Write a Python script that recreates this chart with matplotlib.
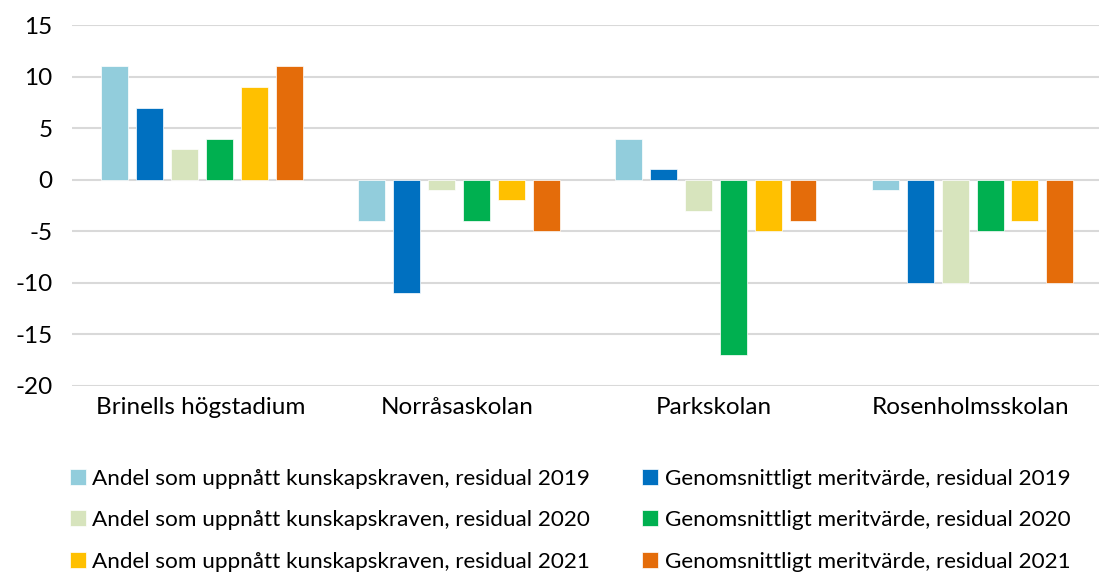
import numpy as np
import matplotlib
matplotlib.use("Agg")
from matplotlib import pyplot as plt

schools = ["Brinells högstadium", "Norråsaskolan", "Parkskolan", "Rosenholmsskolan"]
series_names = [
    "Andel som uppnått kunskapskraven, residual 2019",
    "Genomsnittligt meritvärde, residual 2019",
    "Andel som uppnått kunskapskraven, residual 2020",
    "Genomsnittligt meritvärde, residual 2020",
    "Andel som uppnått kunskapskraven, residual 2021",
    "Genomsnittligt meritvärde, residual 2021",
]
andel_2019 = [11, -4, 4, -1]
merit_2019 = [7, -11, 1, -10]
andel_2020 = [3, -1, -3, -10]
merit_2020 = [4, -4, -17, -5]
andel_2021 = [9, -2, -5, -4]
merit_2021 = [11, -5, -4, -10]
yticks = [15, 10, 5, 0, -5, -10, -15, -20]

values = [andel_2019, merit_2019, andel_2020, merit_2020, andel_2021, merit_2021]
colors = ["#92CDDC", "#0070C0", "#D7E4BD", "#00B050", "#FFC000", "#E46C0A"]

plt.rcParams["font.family"] = ["Lato", "DejaVu Sans"]

fig = plt.figure(figsize=(11.05, 5.74), dpi=100)
ax = fig.add_axes([0.065, 0.328, 0.93, 0.628])

x = np.arange(len(schools))
step = 0.136
width = 0.105
bars = []
for i, vals in enumerate(values):
    b = ax.bar(x + (i - 2.5) * step + 0.006, vals, width, color=colors[i],
               edgecolor="white", linewidth=0.5, zorder=3, label=series_names[i])
    bars.append(b)

ax.set_ylim(-20, 15)
ax.set_xlim(-0.5, 3.5)
ax.set_yticks(yticks)
ax.set_yticklabels([str(t) for t in yticks])
ax.set_xticks(x)
ax.set_xticklabels(schools)
ax.yaxis.grid(True, color="#D9D9D9", linewidth=1.5, zorder=0)
ax.set_axisbelow(True)
for s in ax.spines.values():
    s.set_visible(False)
ax.tick_params(axis="both", length=0, labelsize=17.5, colors="#000000")
ax.tick_params(axis="y", pad=14)
ax.tick_params(axis="x", pad=8)

order = [0, 2, 4, 1, 3, 5]
handles = [bars[i] for i in order]
labels = [series_names[i] for i in order]
fig.legend(handles, labels, ncol=2, loc="upper left", bbox_to_anchor=(0.045, 0.219),
           frameon=False, fontsize=16.2, handlelength=0.7, handleheight=0.7,
           handletextpad=0.3, columnspacing=2.3, labelspacing=0.96)

plt.savefig("out.png", dpi=100)
